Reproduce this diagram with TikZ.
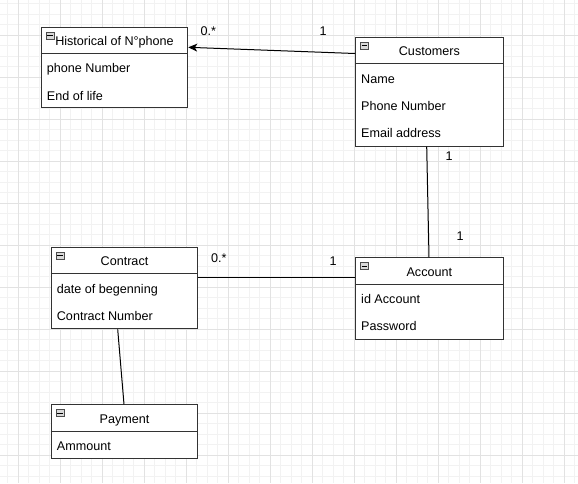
\documentclass[tikz,border=0pt]{standalone}
\usepackage{fontspec}
\setmainfont{Liberation Sans}
\usetikzlibrary{arrows.meta,calc}
\definecolor{minorg}{HTML}{F2F2F2}
\definecolor{majorg}{HTML}{E2E2E2}
\definecolor{edge}{HTML}{333333}
\begin{document}
\begin{tikzpicture}[x=1pt,y=-1pt,
  classbox/.style={draw=edge, line width=1pt, fill=white, anchor=north west, inner sep=0pt},
  txt/.style={font=\fontsize{12.6}{15}\selectfont, inner sep=0pt},
  title/.style={txt, anchor=base},
  row/.style={txt, anchor=base west},
  mult/.style={txt, anchor=base},
  link/.style={draw=black, line width=1pt},
  icon/.style={draw=gray!60!black, fill=gray!30, line width=0.6pt, minimum width=8pt, minimum height=7pt, inner sep=0pt, anchor=north west},
  minorgrid/.style={draw=minorg, line width=0.8pt},
  majorgrid/.style={draw=majorg, line width=0.8pt}
]
\useasboundingbox (0,0) rectangle (578,483);
\fill[white] (0,0) rectangle (578,483);
% grid
\foreach \i in {0,...,54}{\pgfmathsetmacro\gx{7.8+10.5*\i}\draw[minorgrid] (\gx,0) -- (\gx,483);}
\foreach \i in {0,...,45}{\pgfmathsetmacro\gy{3.8+10.5*\i}\draw[minorgrid] (0,\gy) -- (578,\gy);}
\foreach \i in {0,...,13}{\pgfmathsetmacro\gx{18.3+42*\i}\draw[majorgrid] (\gx,0) -- (\gx,483);}
\foreach \i in {0,...,10}{\pgfmathsetmacro\gy{35.3+42*\i}\draw[majorgrid] (0,\gy) -- (578,\gy);}

% Historical
\node[classbox, minimum width=146.6pt, minimum height=80.6pt] (hist) at (40.7,26.7) {};
\draw[edge, line width=1pt] ($(hist.north west)+(0,26.6)$) -- ($(hist.north east)+(0,26.6)$);
\node[icon] (histicon) at ($(hist.north west)+(5,5)$) {};
\draw[black, line width=0.7pt] ($(histicon.west)+(1.5,0)$) -- ($(histicon.east)+(-1.5,0)$);
\node[title] (histt) at ($(hist.north)+(0,19)$) {Historical of N°phone};
\node[row] (histr1) at ($(hist.north west)+(6,46)$) {phone Number};
\node[row] (histr2) at ($(hist.north west)+(6,73.3)$) {End of life};

% Customers
\node[classbox, minimum width=147.7pt, minimum height=109pt] (cust) at (355,36.7) {};
\draw[edge, line width=1pt] ($(cust.north west)+(0,27)$) -- ($(cust.north east)+(0,27)$);
\node[icon] (custicon) at ($(cust.north west)+(5,5)$) {};
\draw[black, line width=0.7pt] ($(custicon.west)+(1.5,0)$) -- ($(custicon.east)+(-1.5,0)$);
\node[title] (custt) at ($(cust.north)+(0,19)$) {Customers};
\node[row] (custr1) at ($(cust.north west)+(6,46.3)$) {Name};
\node[row] (custr2) at ($(cust.north west)+(6,73.6)$) {Phone Number};
\node[row] (custr3) at ($(cust.north west)+(6,100.9)$) {Email address};

% Contract
\node[classbox, minimum width=146.6pt, minimum height=81.6pt] (con) at (50.7,246.7) {};
\draw[edge, line width=1pt] ($(con.north west)+(0,27)$) -- ($(con.north east)+(0,27)$);
\node[icon] (conicon) at ($(con.north west)+(5,5)$) {};
\draw[black, line width=0.7pt] ($(conicon.west)+(1.5,0)$) -- ($(conicon.east)+(-1.5,0)$);
\node[title] (cont) at ($(con.north)+(0,19)$) {Contract};
\node[row] (conr1) at ($(con.north west)+(6,46.3)$) {date of begenning};
\node[row] (conr2) at ($(con.north west)+(6,73.6)$) {Contract Number};

% Account
\node[classbox, minimum width=147.7pt, minimum height=81.4pt] (acc) at (355,257.3) {};
\draw[edge, line width=1pt] ($(acc.north west)+(0,27)$) -- ($(acc.north east)+(0,27)$);
\node[icon] (accicon) at ($(acc.north west)+(5,5)$) {};
\draw[black, line width=0.7pt] ($(accicon.west)+(1.5,0)$) -- ($(accicon.east)+(-1.5,0)$);
\node[title] (acct) at ($(acc.north)+(0,19)$) {Account};
\node[row] (accr1) at ($(acc.north west)+(6,46.3)$) {id Account};
\node[row] (accr2) at ($(acc.north west)+(6,73.6)$) {Password};

% Payment
\node[classbox, minimum width=146.6pt, minimum height=54pt] (pay) at (50.7,404.3) {};
\draw[edge, line width=1pt] ($(pay.north west)+(0,26.7)$) -- ($(pay.north east)+(0,26.7)$);
\node[icon] (payicon) at ($(pay.north west)+(5,5)$) {};
\draw[black, line width=0.7pt] ($(payicon.west)+(1.5,0)$) -- ($(payicon.east)+(-1.5,0)$);
\node[title] (payt) at ($(pay.north)+(0,19)$) {Payment};
\node[row] (payr1) at ($(pay.north west)+(6,46)$) {Ammount};

% connectors
\draw[link, -{Stealth[length=9pt,width=8pt,inset=2.5pt]}] ($(cust.north west)+(0,16.8)$) -- ($(hist.north east)+(0,20.6)$);
\draw[link] ($(cust.south west)+(71.7,0)$) -- ($(acc.north west)+(74,0)$);
\draw[link] ($(con.north east)+(0,30.8)$) -- ($(acc.north west)+(0,20.2)$);
\draw[link] ($(con.south west)+(67,0)$) -- ($(pay.north west)+(73.3,0)$);

% multiplicities
\node[mult] (m1) at (208.3,35.5) {0.*};
\node[mult] (m2) at (323,35.5) {1};
\node[mult] (m3) at (449,160.5) {1};
\node[mult] (m4) at (460,240.5) {1};
\node[mult] (m5) at (218.8,262.8) {0.*};
\node[mult] (m6) at (333,265.5) {1};
\end{tikzpicture}
\end{document}
